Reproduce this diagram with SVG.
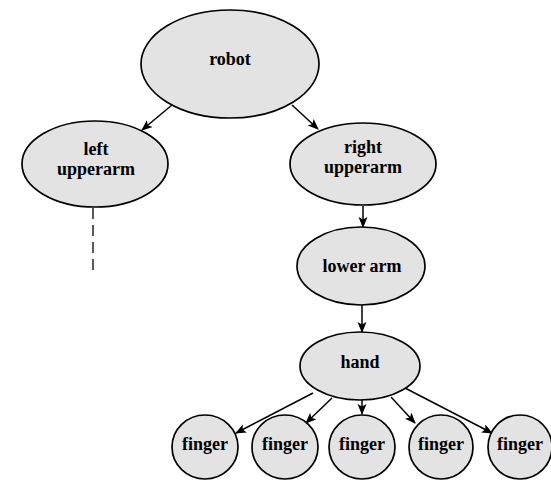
<svg xmlns="http://www.w3.org/2000/svg" width="551" height="480" viewBox="0 0 551 480">
<defs>
<style>
.n{fill:#e3e3e3;stroke:#000;stroke-width:1.7}
.t{font-family:"Liberation Serif","Times New Roman",serif;font-weight:bold;font-size:18px;fill:#000;text-anchor:middle}
.e{stroke:#000;stroke-width:1.5;fill:none;marker-end:url(#ah)}
.d{stroke:#000;stroke-width:1.3;fill:none;stroke-dasharray:11 6}
</style>
<marker id="ah" markerUnits="userSpaceOnUse" markerWidth="12" markerHeight="10" refX="10" refY="4.5" orient="auto">
<path d="M0,0 L11,4.5 L0,9 L2.5,4.5 Z" fill="#000"/>
</marker>
</defs>
<rect width="551" height="480" fill="#fff"/>
<g id="connectors">
<line class="e" x1="172" y1="105" x2="142" y2="130"/>
<line class="e" x1="292" y1="105" x2="318" y2="129"/>
<line class="e" x1="363" y1="206" x2="363" y2="227"/>
<line class="e" x1="362" y1="305" x2="362" y2="332"/>
<line class="e" x1="313" y1="393" x2="236" y2="433"/>
<line class="e" x1="332" y1="398" x2="306" y2="423"/>
<line class="e" x1="362" y1="400" x2="362" y2="414"/>
<line class="e" x1="391" y1="397" x2="415" y2="423"/>
<line class="e" x1="405" y1="388" x2="492" y2="433"/>
<line class="d" x1="93" y1="208" x2="93" y2="272"/>
</g>
<g id="robot">
<ellipse class="n" cx="230" cy="64" rx="89" ry="54"/>
<text class="t" x="230" y="65">robot</text>
</g>
<g id="left-upperarm">
<ellipse class="n" cx="95" cy="164" rx="73" ry="43"/>
<text class="t" x="96" y="155">left</text>
<text class="t" x="96" y="175">upperarm</text>
</g>
<g id="right-upperarm">
<ellipse class="n" cx="363" cy="164" rx="73" ry="41"/>
<text class="t" x="363" y="153">right</text>
<text class="t" x="363" y="173">upperarm</text>
</g>
<g id="lower-arm">
<ellipse class="n" cx="361" cy="266" rx="64" ry="39"/>
<text class="t" x="362" y="272">lower arm</text>
</g>
<g id="hand">
<ellipse class="n" cx="360" cy="366" rx="60" ry="34"/>
<text class="t" x="360" y="368">hand</text>
</g>
<g id="finger1">
<ellipse class="n" cx="205" cy="447" rx="33" ry="32"/>
<text class="t" x="205" y="450">finger</text>
</g>
<g id="finger2">
<ellipse class="n" cx="285" cy="447" rx="33" ry="32"/>
<text class="t" x="285" y="450">finger</text>
</g>
<g id="finger3">
<ellipse class="n" cx="362" cy="447" rx="33" ry="32"/>
<text class="t" x="362" y="450">finger</text>
</g>
<g id="finger4">
<ellipse class="n" cx="441" cy="447" rx="32" ry="32"/>
<text class="t" x="441" y="450">finger</text>
</g>
<g id="finger5">
<ellipse class="n" cx="520" cy="447" rx="32" ry="32"/>
<text class="t" x="520" y="450">finger</text>
</g>
</svg>
